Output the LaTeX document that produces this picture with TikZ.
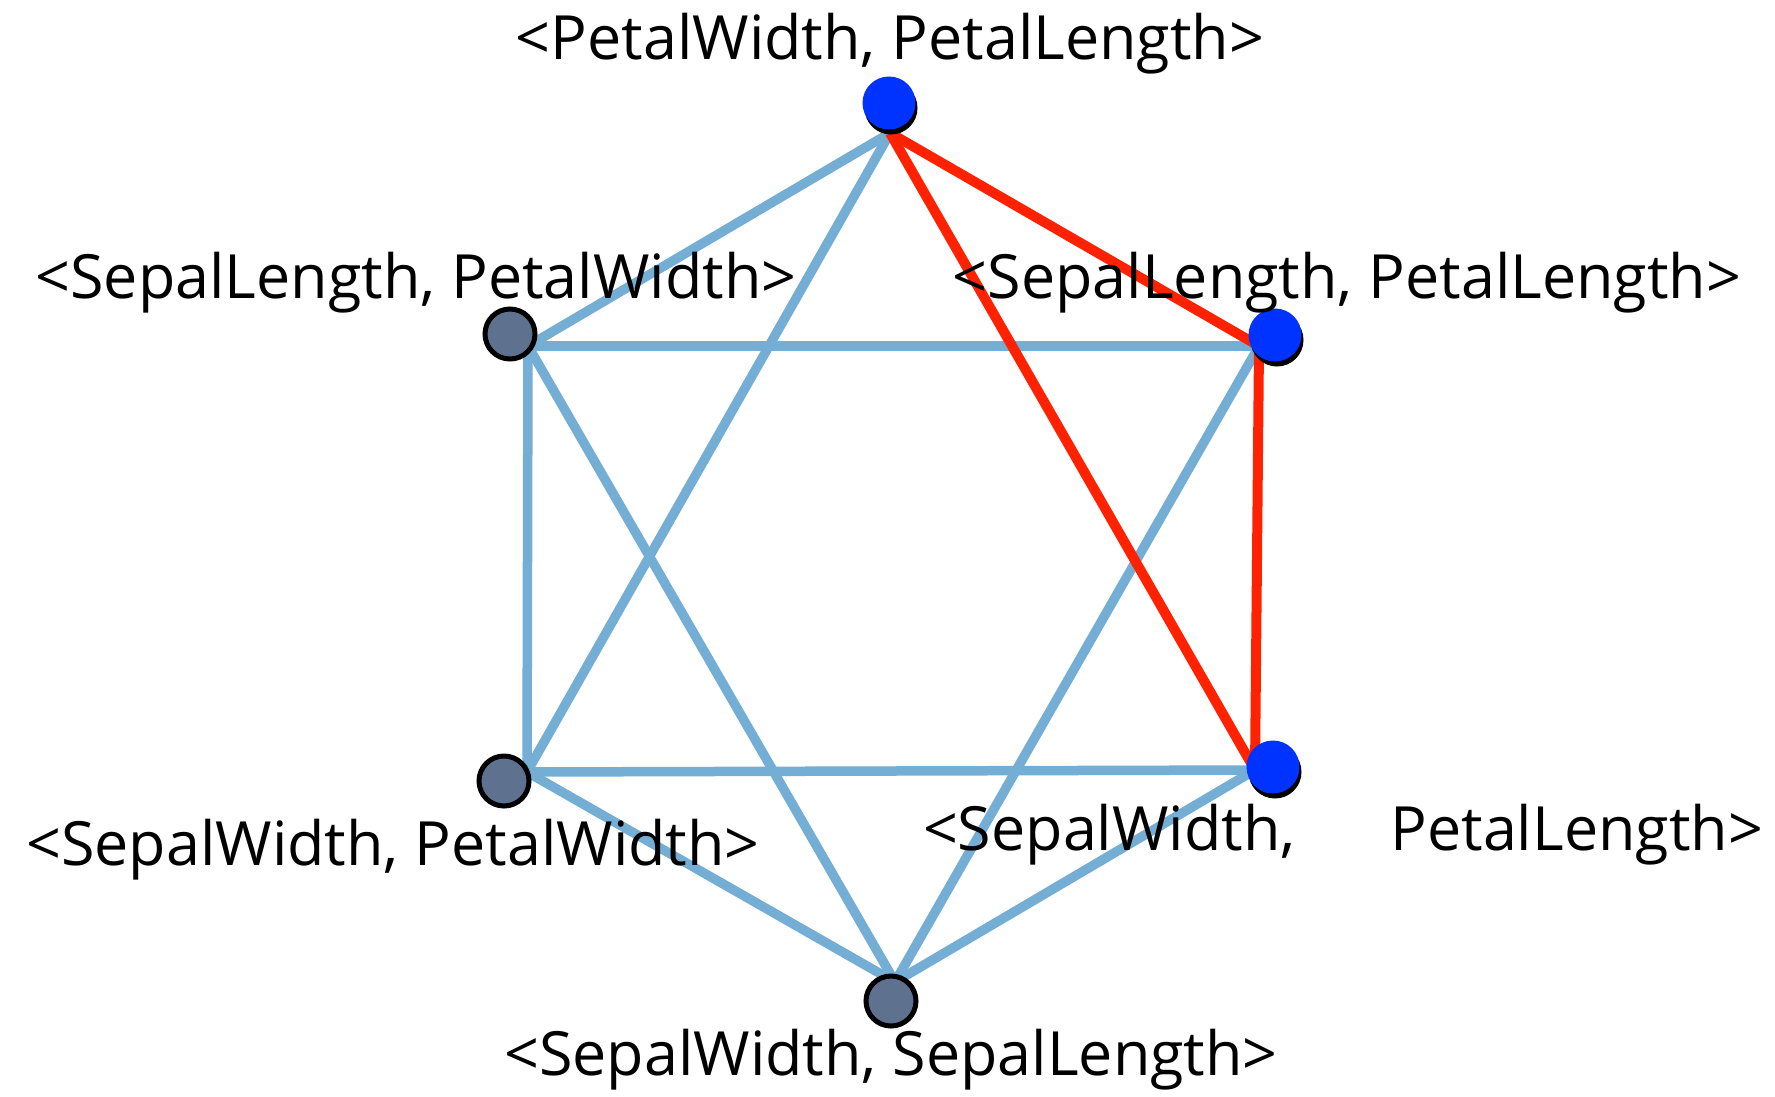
\documentclass[tikz,border=0pt]{standalone}
\usepackage{fontspec}
\setmainfont{Open Sans}
\begin{document}
\begin{tikzpicture}[x=1pt,y=-1pt,
  edgeb/.style={draw=lineblue,line width=9.5pt},
  edger/.style={draw=linered,line width=10pt},
  bluenode/.style={circle,fill=nodeblue,minimum size=53pt,inner sep=0pt},
  shadownode/.style={circle,fill=black,minimum size=53pt,inner sep=0pt},
  graynode/.style={circle,fill=nodegray,draw=black,line width=5pt,minimum size=50pt,inner sep=0pt},
  lbl/.style={font=\fontsize{61}{70}\selectfont,inner sep=0pt,anchor=base}]
\definecolor{lineblue}{HTML}{74AED4}
\definecolor{linered}{HTML}{FF2200}
\definecolor{nodeblue}{HTML}{0033FF}
\definecolor{nodegray}{HTML}{5E7290}
\useasboundingbox (0,0) rectangle (1775,1096);
% attach points
\coordinate (pT) at (890,133);
\coordinate (pUR) at (1259,346);
\coordinate (pLR) at (1255,770);
\coordinate (pB) at (895,982);
\coordinate (pLL) at (527,772);
\coordinate (pUL) at (528,346);
% blue edges
\draw[edgeb] (pT) -- (pUL);
\draw[edgeb] (pT) -- (pLL);
\draw[edgeb] (pUL) -- (pUR);
\draw[edgeb] (pUL) -- (pLL);
\draw[edgeb] (pUL) -- (pB);
\draw[edgeb] (pUR) -- (pB);
\draw[edgeb] (pLL) -- (pLR);
\draw[edgeb] (pLL) -- (pB);
\draw[edgeb] (pLR) -- (pB);
% red edges
\draw[edger] (pT) -- (pUR);
\draw[edger] (pT) -- (pLR);
\draw[edger] (pUR) -- (pLR);
% nodes
\node[shadownode] (sT) at (891,108) {};
\node[bluenode] (nT) at (889,103) {};
\node[shadownode] (sUR) at (1277,340) {};
\node[bluenode] (nUR) at (1275,335) {};
\node[shadownode] (sLR) at (1275,772) {};
\node[bluenode] (nLR) at (1273,767) {};
\node[graynode] (nUL) at (510,334) {};
\node[graynode] (nLL) at (504,781) {};
\node[graynode] (nB) at (891,1001) {};
% labels
\node[lbl] (lT) at (890,59) {<PetalWidth, PetalLength>};
\node[lbl] (lUL) at (416,298) {<SepalLength, PetalWidth>};
\node[lbl] (lUR) at (1347,298) {<SepalLength, PetalLength>};
\node[lbl] (lLL) at (393,865) {<SepalWidth, PetalWidth>};
\node[lbl] (lLR) at (1343,850) {<SepalWidth,\hspace{95pt}PetalLength>};
\node[lbl] (lB) at (891,1075) {<SepalWidth, SepalLength>};
\end{tikzpicture}
\end{document}
